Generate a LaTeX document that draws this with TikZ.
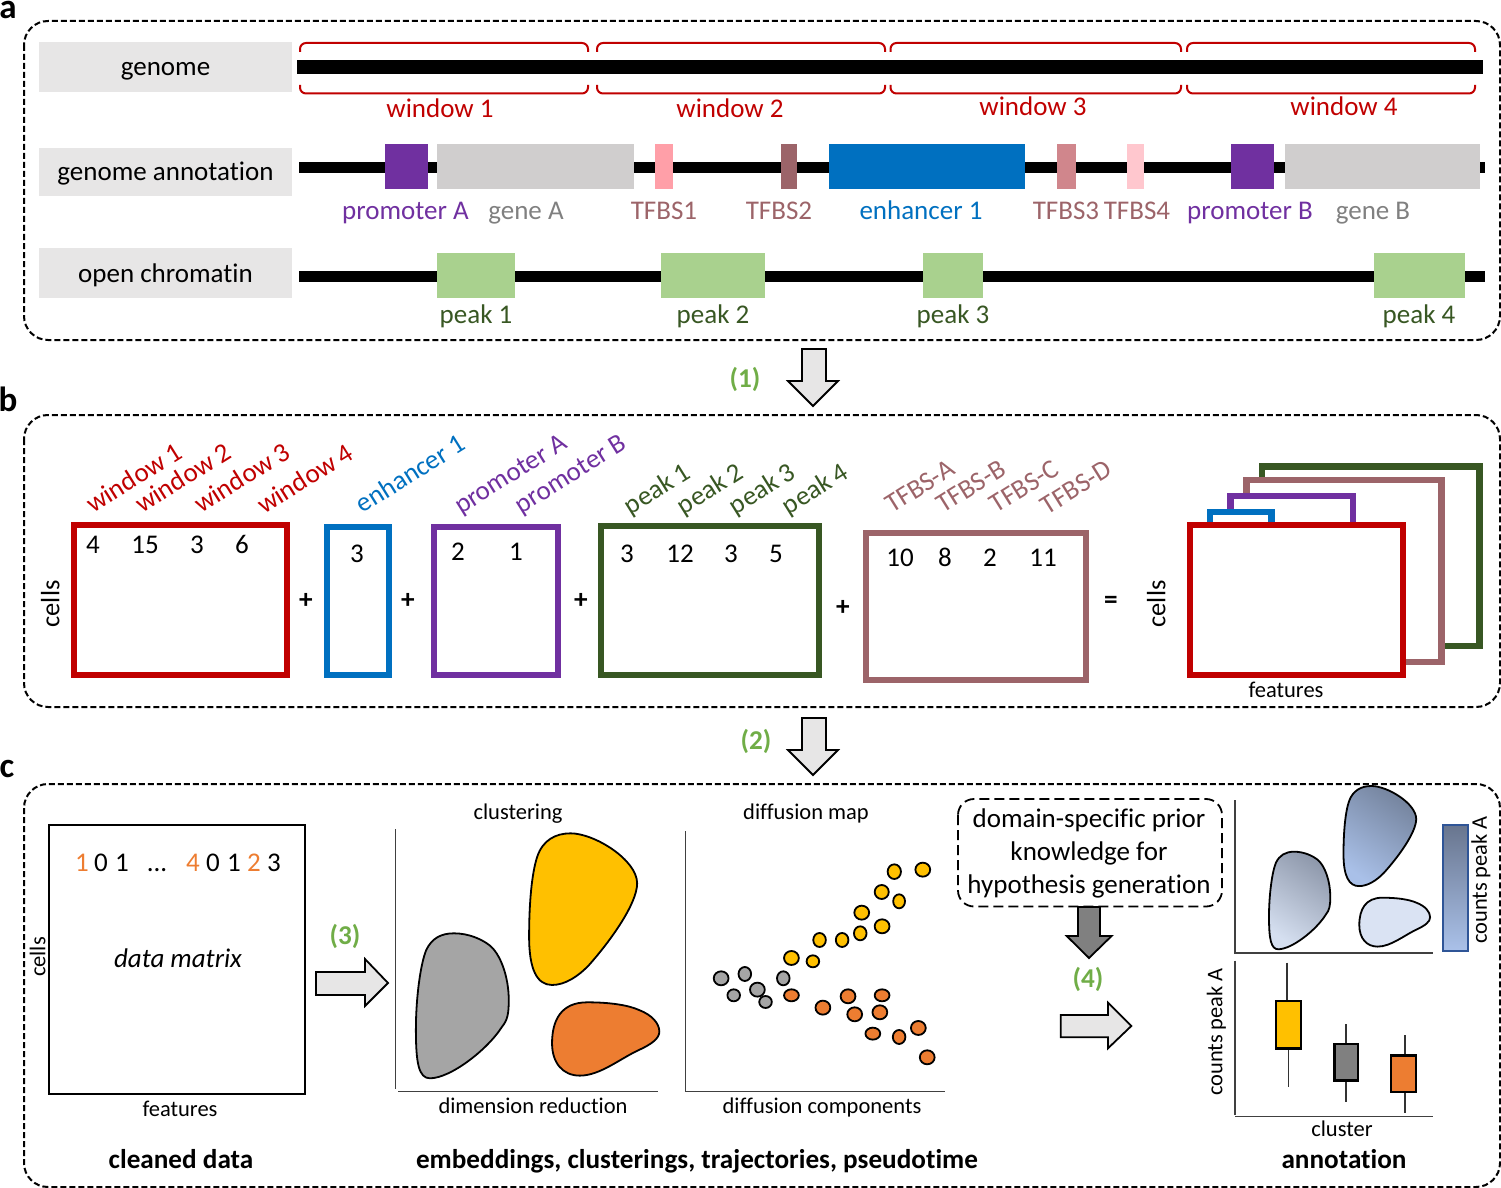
\documentclass[tikz,border=0pt]{standalone}
\usepackage{fontspec}
\setmainfont[Ligatures=NoCommon]{Carlito}
\definecolor{wred}{HTML}{C00000}
\definecolor{lgrey}{HTML}{E7E6E6}
\definecolor{pur}{HTML}{7030A0}
\definecolor{gene}{HTML}{D0CECE}
\definecolor{genet}{HTML}{808080}
\definecolor{tfa}{HTML}{FF9FA8}
\definecolor{tfb}{HTML}{9C6469}
\definecolor{tfc}{HTML}{D0868C}
\definecolor{tfd}{HTML}{FFC7CE}
\definecolor{enh}{HTML}{0070C0}
\definecolor{peakf}{HTML}{A9D18E}
\definecolor{dgreen}{HTML}{385723}
\definecolor{stepg}{HTML}{70AD47}
\definecolor{gold}{HTML}{FFC000}
\definecolor{orng}{HTML}{ED7D31}
\definecolor{gblob}{HTML}{A5A5A5}
\definecolor{bga}{HTML}{8F99AC}
\definecolor{bgb}{HTML}{D5DFF0}
\definecolor{bya}{HTML}{75849E}
\definecolor{byb}{HTML}{A9C0E8}
\definecolor{bor}{HTML}{DAE3F3}
\definecolor{cbd}{HTML}{2F5597}
\definecolor{cbt}{HTML}{68758E}
\definecolor{cbb}{HTML}{AAC1E9}
\tikzset{
  x=.5pt,y=-.5pt,
  lbl/.style={inner sep=0pt,text height=10pt,text depth=1pt,font=\fontsize{13.5}{16}\selectfont},
  sml/.style={inner sep=0pt,text height=8.9pt,text depth=1.5pt,font=\fontsize{11.25}{13}\selectfont},
  bld/.style={lbl,font=\fontsize{13.6}{16}\bfseries\selectfont},
  tag/.style={bld,text=stepg},
  panel/.style={draw=black,line width=1pt,dash pattern=on 3pt off 1.5pt,rounded corners=12pt},
  track/.style={draw=none,fill=lgrey,minimum width=126.5pt,inner sep=0pt},
  mat/.style={line width=2.6pt,fill=white,line join=miter},
  blobline/.style={draw=black,line width=.9pt},
  dot/.style={draw=black,line width=.9pt},
  blockarrow/.style={draw=black,line width=.9pt,fill=lgrey,line join=miter},
  axisline/.style={draw=black!75,line width=.55pt},
  whisk/.style={draw=black!80,line width=.55pt},
  boxp/.style={draw=black,line width=1.1pt},
}
\def\yblob{(515,130) .. controls (580,130) and (695,210) .. (695,280) .. controls (695,340) and (625,450) .. (565,525) .. controls (535,560) and (500,585) .. (465,585) .. controls (425,585) and (403,540) .. (403,440) .. controls (403,340) and (410,250) .. (425,200) .. controls (440,150) and (475,130) .. (515,130) -- cycle}
\def\gblob{(200,430) .. controls (240,430) and (275,448) .. (295,465) .. controls (325,490) and (348,560) .. (348,630) .. controls (348,670) and (345,690) .. (330,710) .. controls (290,780) and (190,865) .. (135,865) .. controls (105,865) and (97,820) .. (97,720) .. controls (97,620) and (110,520) .. (125,480) .. controls (140,445) and (165,430) .. (200,430) -- cycle}
\def\oblob{(560,637) .. controls (620,637) and (670,645) .. (700,660) .. controls (735,675) and (755,700) .. (755,725) .. controls (755,745) and (735,762) .. (700,780) .. controls (650,805) and (595,857) .. (540,857) .. controls (495,857) and (465,820) .. (465,760) .. controls (465,690) and (490,637) .. (560,637) -- cycle}
\begin{document}
\begin{tikzpicture}
\useasboundingbox (0,0) rectangle (1501,1188);
% panel letters
\node[inner sep=0pt,font=\fontsize{17.5}{20}\bfseries\selectfont] (la) at (8,10) {a};
\node[inner sep=0pt,font=\fontsize{17.5}{20}\bfseries\selectfont] (lb) at (8,399) {b};
\node[inner sep=0pt,font=\fontsize{17.5}{20}\bfseries\selectfont] (lc) at (7,769) {c};
% panels
\draw[panel] (24,21) rectangle (1500,340);
\draw[panel] (24,415) rectangle (1500,707);
\draw[panel] (24,784) rectangle (1500,1187);
% ---------- panel a
\node[lbl,track,minimum height=25pt] (tg) at (165.5,67) {genome};
\node[lbl,track,minimum height=24pt] (ta) at (165.5,172) {genome annotation};
\node[lbl,track,minimum height=25pt] (to) at (165.5,273) {open chromatin};
\fill[black] (297,60.5) rectangle (1483,74);
\fill[black] (299,162) rectangle (1485,173);
\fill[black] (299,271) rectangle (1485,282);
\foreach \a/\b in {300/588,597/885,890.5/1181,1187/1475}{
  \draw[wred,line width=1pt,rounded corners=3pt] (\a,52)--(\a,43)--(\b,43)--(\b,52);
  \draw[wred,line width=1pt,rounded corners=3pt] (\a,85)--(\a,93.5)--(\b,93.5)--(\b,85);
}
\node[lbl,text=wred] (w1) at (440,109) {window 1};
\node[lbl,text=wred] (w2) at (730,109) {window 2};
\node[lbl,text=wred] (w3) at (1033,107) {window 3};
\node[lbl,text=wred] (w4) at (1344,107) {window 4};
\fill[pur] (385,144) rectangle (428,189.5);
\fill[gene] (437.3,144) rectangle (634,189.5);
\fill[tfa] (654.5,144) rectangle (673,189.5);
\fill[tfb] (781,144) rectangle (797,189.5);
\fill[enh] (828.5,144) rectangle (1025.4,189.5);
\fill[tfc] (1057,144) rectangle (1076,189.5);
\fill[tfd] (1127.4,144) rectangle (1143.7,189.5);
\fill[pur] (1231.3,144) rectangle (1274.4,189.5);
\fill[gene] (1285.4,144) rectangle (1480,189.5);
\node[lbl,text=pur] (pa) at (405.5,211) {promoter A};
\node[lbl,text=genet] (ga) at (526,211) {gene A};
\node[lbl,text=tfb] (t1) at (664,211) {TFBS1};
\node[lbl,text=tfb] (t2) at (779,211) {TFBS2};
\node[lbl,text=enh] (e1) at (921,211) {enhancer 1};
\node[lbl,text=tfb] (t3) at (1066,211) {TFBS3};
\node[lbl,text=tfb] (t4) at (1137,211) {TFBS4};
\node[lbl,text=pur] (pb) at (1250,211) {promoter B};
\node[lbl,text=genet] (gb) at (1373,211) {gene B};
\fill[peakf] (437.3,252.7) rectangle (514.8,298);
\fill[peakf] (661.2,252.7) rectangle (765.3,298);
\fill[peakf] (923.4,252.7) rectangle (982.8,298);
\fill[peakf] (1374,252.7) rectangle (1465,298);
\node[lbl,text=dgreen] (p1) at (476,314.5) {peak 1};
\node[lbl,text=dgreen] (p2) at (713,314.5) {peak 2};
\node[lbl,text=dgreen] (p3) at (953,314.5) {peak 3};
\node[lbl,text=dgreen] (p4) at (1419,314.5) {peak 4};
% step arrows
\draw[blockarrow] (802,349)--(826,349)--(826,381)--(838,381)--(813,406)--(788,381)--(802,381)--cycle;
\node[tag] (s1) at (745,378) {(1)};
\draw[blockarrow] (802,718)--(826,718)--(826,750)--(838,750)--(813,775)--(788,750)--(802,750)--cycle;
\node[tag] (s2) at (756,740) {(2)};
% ---------- panel b
\draw[mat,draw=wred] (74,525) rectangle (287,675);
\draw[mat,draw=enh] (327,527) rectangle (389,675);
\draw[mat,draw=pur] (434,527) rectangle (558,675);
\draw[mat,draw=dgreen] (601,526) rectangle (819,675);
\draw[mat,draw=tfb] (866,533) rectangle (1086,680);
\node[sml,rotate=90,font=\fontsize{13.25}{16}\selectfont] (cb1) at (52,604) {cells};
\foreach \t/\x/\y in {4/93/544,15/145/544,3/197/544,6/242/544,3/357/553,2/458/551,1/516/551,3/627/553,12/680/553,3/731/553,5/776/553,10/900/557,8/945/557,2/990/557,11/1043/557}
  \node[lbl] (num\x) at (\x,\y) {\t};
\node[bld] (op1) at (306,599) {+};
\node[bld] (op2) at (408,599) {+};
\node[bld] (op3) at (581,599) {+};
\node[bld] (op4) at (843,606) {+};
\node[bld] (op5) at (1111,599) {=};
\begin{scope}[every node/.style={lbl,rotate=32}]
\node[text=wred] (rw1) at (134,477.5) {window 1};
\node[text=wred] (rw2) at (183,477.5) {window 2};
\node[text=wred] (rw3) at (242,477.5) {window 3};
\node[text=wred] (rw4) at (305,478.5) {window 4};
\node[text=enh] (re1) at (410,473.5) {enhancer 1};
\node[text=pur] (rpa) at (510,473.5) {promoter A};
\node[text=pur] (rpb) at (570,473.5) {promoter B};
\node[text=dgreen] (rp1) at (657,488.5) {peak 1};
\node[text=dgreen] (rp2) at (710,488.5) {peak 2};
\node[text=dgreen] (rp3) at (762,488.5) {peak 3};
\node[text=dgreen] (rp4) at (815,488.5) {peak 4};
\node[text=tfb] (rta) at (920,486) {TFBS-A};
\node[text=tfb] (rtb) at (971,486) {TFBS-B};
\node[text=tfb] (rtc) at (1024,486) {TFBS-C};
\node[text=tfb] (rtd) at (1076,487) {TFBS-D};
\end{scope}
% stack
\draw[mat,draw=dgreen,line width=3.2pt] (1262,466.5) rectangle (1479.5,646);
\draw[mat,draw=tfb,line width=3.2pt] (1246.3,480) rectangle (1441.5,662);
\draw[mat,draw=pur,line width=3.2pt] (1230.5,496) rectangle (1353,640);
\draw[mat,draw=enh,line width=3.2pt] (1210,512) rectangle (1271.5,640);
\draw[mat,draw=wred,line width=3.2pt] (1190,525) rectangle (1403,675);
\node[sml,rotate=90,font=\fontsize{13.25}{16}\selectfont] (cb2) at (1158,604) {cells};
\node[sml] (fb) at (1286,690) {features};
% ---------- panel c
\draw[black,line width=1.1pt] (49,825) rectangle (305,1094);
\foreach \t/\x/\c in {1/82/orng,0/101/black,1/122/black,4/193/orng,0/213/black,1/234/black,2/254/orng,3/274/black}
  \node[lbl,text=\c] (row\x) at (\x,862.5) {\t};
\node[lbl] (rowdots) at (157,862.5) {...};
\node[lbl] (dm) at (178,958) {\itshape data matrix};
\node[sml,rotate=90] (cc) at (38,957) {cells};
\node[sml] (fc) at (180,1109) {features};
\node[bld] (cd) at (181,1159) {cleaned data};
\node[bld] (em) at (697,1159) {embeddings, clusterings, trajectories, pseudotime};
\node[bld] (an) at (1344,1159) {annotation};
\draw[blockarrow] (316,972)--(365,972)--(365,959)--(388,983)--(365,1006)--(365,995)--(316,995)--cycle;
\node[tag] (s3) at (345,935) {(3)};
% plots
\node[sml] (tcl) at (518,812) {clustering};
\node[sml] (tdm) at (806,812) {diffusion map};
\node[sml] (tdr) at (533,1106) {dimension reduction};
\node[sml] (tdc) at (822,1106) {diffusion components};
\draw[axisline] (395.5,829)--(395.5,1089);
\draw[axisline] (398,1091.7)--(657.5,1091.7);
\draw[axisline] (685.6,831)--(685.6,1091.7)--(945,1091.7);
\begin{scope}[shift={(380,790)},xscale=.37,yscale=.3333]
\draw[blobline,fill=gold] \yblob;
\draw[blobline,fill=gblob] \gblob;
\draw[blobline,fill=orng] \oblob;
\foreach \x/\y/\a/\b in {1390/245/18/22,1467/239/20/21,1356/306/19/21,1403/334/16/21,1302/368/20/21,1357/409/20/21,1298/430/17/21,1188/450/17/21,1249/450/17/21,1112/504/20/21,1170/514/17/18}
  \draw[dot,fill=gold] (\x,\y) ellipse [x radius=\a,y radius=\b];
\foreach \x/\y/\a/\b in {922/565/20/21,986/552/17/21,1090/565/17/21,956/616/17/18,1020/599/20/21,1042/636/17/18}
  \draw[dot,fill=gblob] (\x,\y) ellipse [x radius=\a,y radius=\b];
\foreach \x/\y/\a/\b in {1112/616/20/18,1197/653/20/21,1265/619/20/21,1357/616/20/18,1283/673/20/21,1351/667/20/21,1332/731/20/18,1403/741/17/21,1455/714/20/21,1479/802/20/21}
  \draw[dot,fill=orng] (\x,\y) ellipse [x radius=\a,y radius=\b];
\end{scope}
% domain box
\draw[black,line width=.9pt,dash pattern=on 5pt off 2.5pt,rounded corners=8pt] (958,799) rectangle (1222,906.5);
\node[inner sep=0pt,align=center,font=\fontsize{13.5}{16.5}\selectfont] (dom) at (1089,853.5) {domain-specific prior\\knowledge for\\hypothesis generation};
\draw[blockarrow,fill=black!50] (1078,907)--(1100,907)--(1100,936)--(1111.6,936)--(1089,958)--(1066.7,936)--(1078,936)--cycle;
\node[tag] (s4) at (1088,978.5) {(4)};
\draw[blockarrow] (1060.7,1015)--(1108,1015)--(1108,1002.7)--(1131.3,1026)--(1108,1048.3)--(1108,1037.3)--(1060.7,1037.3)--cycle;
% annotation plots
\draw[axisline] (1235,800)--(1235,953)--(1433,953);
\draw[axisline] (1235,960.7)--(1235,1115);
\draw[axisline] (1235,1116.7)--(1433,1116.7);
\begin{scope}[shift={(1269,851.7)},xscale=.2442,yscale=.2243,shift={(-97,-430)}]
\draw[blobline,shading=axis,top color=bga,bottom color=bgb,shading angle=-35] \gblob;
\end{scope}
\begin{scope}[shift={(1343.5,786)},xscale=.249,yscale=.22,shift={(-403,-130)}]
\draw[blobline,shading=axis,top color=bya,bottom color=byb,shading angle=-35] \yblob;
\end{scope}
\begin{scope}[shift={(1359.3,897.7)},xscale=.2442,yscale=.2223,shift={(-465,-637)}]
\draw[blobline,fill=bor] \oblob;
\end{scope}
\draw[draw=cbd,line width=1pt,shading=axis,top color=cbt,bottom color=cbb] (1442.5,824.5) rectangle (1467.5,950.5);
\node[sml,rotate=90,font=\fontsize{11.2}{13}\selectfont] (cp1) at (1479.5,880) {counts peak A};
\node[sml,rotate=90,font=\fontsize{11.2}{13}\selectfont] (cp2) at (1215,1032) {counts peak A};
\node[sml] (cl) at (1342,1129) {cluster};
\draw[whisk] (1287,962.7)--(1287,1001);
\draw[whisk] (1288.4,1048)--(1288.4,1087.3);
\draw[boxp,fill=gold] (1276,1001) rectangle (1301,1048.5);
\draw[whisk] (1346,1024)--(1346,1102.3);
\draw[boxp,fill=black!50] (1334.5,1044) rectangle (1358,1080.5);
\draw[whisk] (1405,1035)--(1405,1113.3);
\draw[boxp,fill=orng] (1391,1055.5) rectangle (1416,1092);
\end{tikzpicture}
\end{document}
